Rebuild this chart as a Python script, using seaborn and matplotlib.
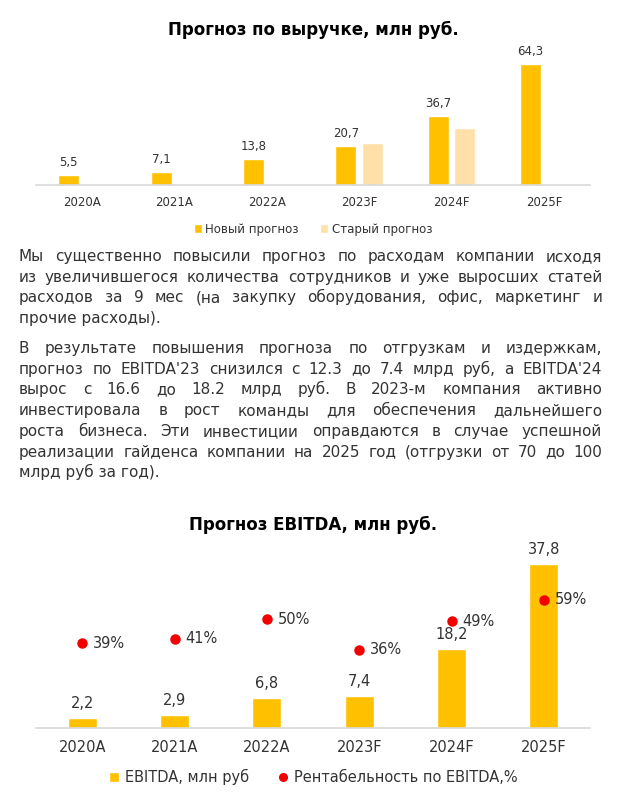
import numpy as np
import pandas as pd
import seaborn as sns
import matplotlib.pyplot as plt
from matplotlib.patches import Patch
from matplotlib.lines import Line2D

W, H = 619, 800

YEARS = ['2020A', '2021A', '2022A', '2023F', '2024F', '2025F']
REV_NEW = [5.5, 7.1, 13.8, 20.7, 36.7, 64.3]
REV_OLD_YEARS = ['2023F', '2024F']
REV_OLD = [22.5, 30.3]
EBITDA = [2.2, 2.9, 6.8, 7.4, 18.2, 37.8]
MARGIN = [39, 41, 50, 36, 49, 59]

SERIES = ['Новый прогноз', 'Старый прогноз']

PARA_1 = [
    'Мы существенно повысили прогноз по расходам компании исходя',
    'из увеличившегося количества сотрудников и уже выросших статей',
    'расходов за 9 мес (на закупку оборудования, офис, маркетинг и',
    'прочие расходы).',
]
PARA_2 = [
    'В результате повышения прогноза по отгрузкам и издержкам,',
    "прогноз по EBITDA'23 снизился с 12.3 до 7.4 млрд руб, а EBITDA'24",
    'вырос с 16.6 до 18.2 млрд руб. В 2023-м компания активно',
    'инвестировала в рост команды для обеспечения дальнейшего',
    'роста бизнеса. Эти инвестиции оправдаются в случае успешной',
    'реализации гайденса компании на 2025 год (отгрузки от 70 до 100',
    'млрд руб за год).',
]

GOLD = '#FFC000'
LIGHT = '#FFE0A8'
RED = '#F20000'
GREY_LINE = '#D9D9D9'
TXT = '#333333'


def fmt(v):
    return f'{v:.1f}'.replace('.', ',')


def rect(left, top, right, bottom):
    return [left / W, 1 - bottom / H, (right - left) / W, (bottom - top) / H]


def clean(ax):
    sns.despine(ax=ax, left=True, top=True, right=True)
    ax.spines['bottom'].set_color(GREY_LINE)
    ax.spines['bottom'].set_linewidth(1.2)
    ax.set_yticks([])
    ax.set_xlabel('')
    ax.set_ylabel('')


def paragraph(fig, lines, y0, x0=19, x1=602, dy=20.7, size=11):
    r = fig.canvas.get_renderer()
    for i, line in enumerate(lines):
        y = 1 - (y0 + i * dy) / H
        if i == len(lines) - 1:
            fig.text(x0 / W, y, line, fontsize=size, color=TXT, va='baseline')
            continue
        words = line.split()
        texts = [fig.text(0, y, w, fontsize=size, color=TXT, va='baseline') for w in words]
        widths = [t.get_window_extent(r).width for t in texts]
        gap = (x1 - x0 - sum(widths)) / (len(words) - 1)
        x = x0
        for t, w in zip(texts, widths):
            t.set_x(x / W)
            x += w + gap


def main():
    sns.set_style('white')
    plt.rcParams['font.family'] = ['DejaVu Sans']

    fig = plt.figure(figsize=(W / 100, H / 100), dpi=100)

    # Revenue forecast
    rev_df = pd.concat([
        pd.DataFrame({'year': YEARS, 'value': REV_NEW, 'series': SERIES[0]}),
        pd.DataFrame({'year': REV_OLD_YEARS, 'value': REV_OLD, 'series': SERIES[1]}),
    ])
    ax1 = fig.add_axes(rect(36, 53, 590, 185))
    sns.barplot(data=rev_df, x='year', y='value', hue='series', order=YEARS,
                hue_order=SERIES, palette=[GOLD, LIGHT], width=0.58, gap=0.22,
                saturation=1, errorbar=None, legend=False, ax=ax1)
    ax1.set_ylim(0, 70)
    clean(ax1)
    ax1.tick_params(axis='x', length=0, pad=8, labelsize=8.5, labelcolor=TXT)
    ax1.bar_label(ax1.containers[0], labels=[fmt(v) for v in REV_NEW],
                  padding=4, fontsize=8.5, color=TXT)
    fig.text(313 / W, 1 - 30 / H, 'Прогноз по выручке, млн руб.', ha='center',
             va='center', fontsize=12, fontweight='bold', color='black')
    fig.legend(handles=[Patch(facecolor=GOLD), Patch(facecolor=LIGHT)], labels=SERIES,
               loc='center', bbox_to_anchor=(313 / W, 1 - 229 / H), ncol=2, frameon=False,
               fontsize=8.5, handlelength=0.7, handleheight=0.7, handletextpad=0.3,
               columnspacing=1.8, labelcolor=TXT)

    # Text block
    paragraph(fig, PARA_1, 261)
    paragraph(fig, PARA_2, 353)

    # EBITDA forecast
    ax2 = fig.add_axes(rect(36, 554, 590, 728))
    sns.barplot(x=YEARS, y=EBITDA, color=GOLD, width=0.315, saturation=1,
                errorbar=None, ax=ax2)
    ax2.set_ylim(0, 40)
    clean(ax2)
    ax2.tick_params(axis='x', length=0, pad=9, labelsize=10.5, labelcolor=TXT)
    ax2.bar_label(ax2.containers[0], labels=[fmt(v) for v in EBITDA],
                  padding=5, fontsize=10.5, color=TXT)

    ax3 = ax2.twinx()
    sns.pointplot(x=YEARS, y=MARGIN, color=RED, linestyle='none', markers='o',
                  markersize=5.5, errorbar=None, ax=ax3)
    ax3.set_ylim(0, 80)
    for spine in ax3.spines.values():
        spine.set_visible(False)
    ax3.set_yticks([])
    ax3.set_ylabel('')
    for i, m in enumerate(MARGIN):
        ax3.text(i + 0.12, m, f'{m}%', va='center', ha='left', fontsize=10.5, color=TXT)

    fig.text(313 / W, 1 - 525 / H, 'Прогноз EBITDA, млн руб.', ha='center',
             va='center', fontsize=12, fontweight='bold', color='black')
    fig.legend(handles=[Patch(facecolor=GOLD),
                        Line2D([], [], linestyle='none', marker='o', color=RED, markersize=5.5)],
               labels=['EBITDA, млн руб', 'Рентабельность по EBITDA,%'],
               loc='center', bbox_to_anchor=(313 / W, 1 - 777 / H), ncol=2, frameon=False,
               fontsize=10.5, handlelength=0.7, handleheight=0.7, handletextpad=0.4,
               columnspacing=2.0, labelcolor=TXT)

    fig.savefig('out.png', dpi=100)


if __name__ == '__main__':
    main()
